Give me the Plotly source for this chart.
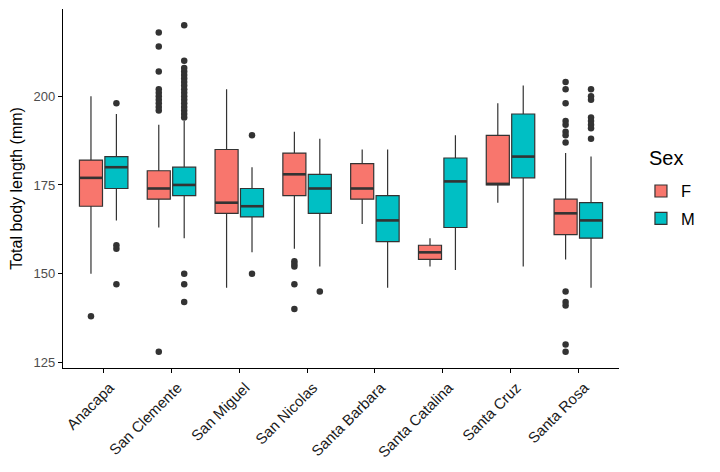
import plotly.graph_objects as go

islands = ['Anacapa', 'San Clemente', 'San Miguel', 'San Nicolas',
           'Santa Barbara', 'Santa Catalina', 'Santa Cruz', 'Santa Rosa']

# box stats per island, females
f_low = [150, 163, 146, 157, 164, 152, 170, 154]
f_q1 = [169, 171, 167, 172, 171, 154, 175, 161]
f_med = [177, 174, 170, 178, 174, 156, 175.3, 167]
f_q3 = [182, 179, 185, 184, 181, 158, 189, 171]
f_high = [200, 192, 202, 190, 185, 160, 198, 184]
f_out = [[138],
         [128, 218, 214, 207, 202, 201, 200, 199, 198, 197, 196],
         [],
         [153.5, 152.7, 152, 147, 140],
         [], [], [],
         [145, 142, 141, 130, 128, 204, 202, 198, 193, 192, 190, 189, 187]]

# males
m_low = [165, 160, 156, 152, 146, 151, 152, 146]
m_q1 = [174, 172, 166, 167, 159, 163, 177, 160]
m_med = [180, 175, 169, 174, 165, 176, 183, 165]
m_q3 = [183, 180, 174, 178, 172, 182.6, 195, 170]
m_high = [195, 193, 180, 188, 185, 189, 203, 183]
m_out = [[198, 158, 157, 147],
         [150, 147, 142, 220, 210, 208, 207, 206, 205, 204, 203, 202, 201,
          200, 199, 198, 197, 196, 195, 194],
         [189, 150],
         [145],
         [], [], [],
         [202, 200, 199, 194, 193, 192, 191, 188]]

fill_f = '#F8766D'
fill_m = '#00BFC4'
dark = '#333333'
off = 0.1875
bw = 0.34

fig = go.Figure()


def add_group(name, shift, low, q1, med, q3, high, outs, color):
    pos = [i + 1 + shift for i in range(len(islands))]
    fig.add_trace(go.Box(
        name=name, x=pos, q1=q1, median=med, q3=q3,
        lowerfence=low, upperfence=high, width=bw,
        fillcolor=color, line=dict(color=dark, width=1.2),
        whiskerwidth=0, boxpoints=False, legendgroup=name,
    ))
    # thicker median bar like ggplot
    mx, my = [], []
    for p, m in zip(pos, med):
        mx += [p - bw / 2, p + bw / 2, None]
        my += [m, m, None]
    fig.add_trace(go.Scatter(x=mx, y=my, mode='lines',
                             line=dict(color=dark, width=2.6),
                             showlegend=False, hoverinfo='skip'))
    ox, oy = [], []
    for p, vals in zip(pos, outs):
        ox += [p] * len(vals)
        oy += vals
    fig.add_trace(go.Scatter(x=ox, y=oy, mode='markers',
                             marker=dict(color=dark, size=6.5),
                             showlegend=False))


add_group('F', -off, f_low, f_q1, f_med, f_q3, f_high, f_out, fill_f)
add_group('M', off, m_low, m_q1, m_med, m_q3, m_high, m_out, fill_m)

# page body has an 8px margin, so the figure is 8px smaller on each axis
fig.update_layout(
    width=712, height=464,
    margin=dict(l=55, r=101, t=1, b=104),
    paper_bgcolor='white', plot_bgcolor='white',
    font=dict(family='Liberation Sans, Arial, sans-serif', color='black'),
    boxmode='overlay',
    legend=dict(font=dict(size=16.5), x=1.0395, y=0.541,
                xanchor='left', yanchor='top', tracegroupgap=3),
    annotations=[dict(text='Sex', xref='paper', yref='paper', x=1.05, y=0.586,
                      xanchor='left', yanchor='middle', showarrow=False,
                      font=dict(size=20))],
)
fig.update_xaxes(
    range=[0.4, 8.6], tickvals=list(range(1, len(islands) + 1)),
    ticktext=islands, tickangle=-45, showgrid=False, zeroline=False,
    showline=True, linecolor='black', linewidth=1.2,
    ticks='outside', ticklen=4, tickcolor='black',
    tickfont=dict(size=15, color='#1a1a1a'), ticklabelshift=6,
)
fig.update_yaxes(
    range=[123.4, 224.6], tickvals=[125, 150, 175, 200],
    showgrid=False, zeroline=False,
    showline=True, linecolor='black', linewidth=1.2,
    ticks='outside', ticklen=4, tickcolor='black',
    tickfont=dict(size=13, color='#4d4d4d'),
    title=dict(text='Total body length (mm)', font=dict(size=16), standoff=6),
)

fig.write_html('out.html')
